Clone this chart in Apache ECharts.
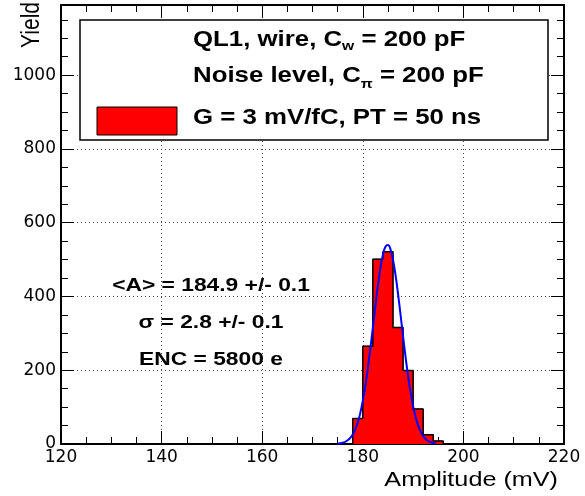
<!DOCTYPE html>
<html><head><meta charset="utf-8">
<script src="https://cdn.jsdelivr.net/npm/echarts@6/dist/echarts.min.js"></script>
<style>html,body{margin:0;padding:0;background:#fff}#c{width:585px;height:496px}</style>
</head><body><div id="c"></div>
<script>
// Histogram bins (lower edges, mV), bin width and counts
const binLow = [178, 180, 182, 184, 186, 188, 190, 192, 194];
const binWidth = 2;
const counts = [69, 265, 501, 521, 316, 199, 95, 25, 8];
// Gaussian fit curve points
const fitX = [175,175.5,176,176.5,177,177.5,178,178.5,179,179.5,180,180.5,181,181.5,182,182.5,183,183.5,184,184.5,185,185.5,186,186.5,187,187.5,188,188.5,189,189.5,190,190.5,191,191.5,192,192.5,193,193.5,194,194.5];
const fitY = [1.0,1.9,3.5,6.0,10.1,16.4,25.9,39.6,58.6,84.1,116.8,157.1,204.7,258.3,315.8,374.0,429.0,476.6,512.8,534.5,539.7,527.7,499.9,458.6,407.6,350.9,292.6,236.3,184.8,140.1,102.8,73.1,50.3,33.6,21.7,13.6,8.2,4.8,2.7,1.4];
// Axis ranges / ticks
const xRange = [120, 220];
const xMajor = 20;
const yRange = [0, 1190];
const yMajor = 200;
// Texts
const legendLines = [
  '{b|QL1, wire, C}{s|w}{b| = 200 pF}',
  '{b|Noise level, C}{s|π}{b| = 200 pF}',
  '{b|G = 3 mV/fC, PT = 50 ns}'
];
const statLines = ['<A> = 184.9 +/- 0.1', 'σ = 2.8 +/- 0.1', 'ENC = 5800 e'];
const xTitle = 'Amplitude (mV)';
const yTitle = 'Yield';

const FONT = 'Liberation Sans, Arial, Helvetica, sans-serif';
const AXFONT = 'DejaVu Sans, sans-serif';
const SX = 1.2; // horizontal stretch of the reference's text
const binData = binLow.map((lo, i) => [lo, lo + binWidth, counts[i]]);
const outline = [[binLow[0], 0]];
binLow.forEach((lo, i) => { outline.push([lo, counts[i]]); outline.push([lo + binWidth, counts[i]]); });
outline.push([binLow[binLow.length - 1] + binWidth, 0]);
const fitData = fitX.map((x, i) => [x, fitY[i]]);

const chart = echarts.init(document.getElementById('c'), null, {renderer: 'canvas'});
const tickCommon = {show: true, inside: true, length: 13, lineStyle: {color: '#000', width: 1}};
const minorCommon = {show: true, splitNumber: 4, length: 7, lineStyle: {color: '#000', width: 1}};
const lineCommon = {show: true, onZero: false, lineStyle: {color: '#000', width: 2}};
const split = {show: true, lineStyle: {color: '#444', width: 1, type: [1, 3]}};
const plain = (v) => String(v);

const subStyle = (lh) => ({
  b: {fontSize: 21.5, fontWeight: 'bold', fontFamily: FONT, color: '#000', lineHeight: lh},
  s: {fontSize: 13, fontWeight: 'bold', fontFamily: FONT, color: '#000', lineHeight: 14, verticalAlign: 'bottom'}
});
const statStyle = {align: 'center', verticalAlign: 'middle', fontSize: 19, fontWeight: 'bold', fontFamily: FONT, fill: '#000'};

chart.setOption({
  animation: false,
  backgroundColor: '#fff',
  grid: {left: 61, right: 21, top: 5, bottom: 52, containLabel: false, outerBoundsMode: 'none'},
  xAxis: [
    {type: 'value', min: xRange[0], max: xRange[1], interval: xMajor, position: 'bottom',
     axisLine: lineCommon, axisTick: tickCommon, minorTick: minorCommon, splitLine: split,
     axisLabel: {show: true, color: '#000', fontSize: 17, fontFamily: AXFONT, margin: 5, formatter: plain, showMinLabel: true, showMaxLabel: true, hideOverlap: false}},
    {type: 'value', min: xRange[0], max: xRange[1], interval: xMajor, position: 'top',
     axisLine: lineCommon, axisTick: tickCommon, minorTick: minorCommon, splitLine: {show: false}, axisLabel: {show: false}}
  ],
  yAxis: [
    {type: 'value', min: yRange[0], max: yRange[1], interval: yMajor, position: 'left',
     axisLine: lineCommon, axisTick: tickCommon, minorTick: minorCommon, splitLine: split,
     axisLabel: {show: true, color: '#000', fontSize: 17, fontFamily: AXFONT, margin: 5, formatter: plain, showMinLabel: true, showMaxLabel: false, hideOverlap: false}},
    {type: 'value', min: yRange[0], max: yRange[1], interval: yMajor, position: 'right',
     axisLine: lineCommon, axisTick: tickCommon, minorTick: minorCommon, splitLine: {show: false}, axisLabel: {show: false}}
  ],
  series: [
    {type: 'custom', xAxisIndex: 0, yAxisIndex: 0, data: binData, clip: true,
     renderItem: (params, api) => {
       const p0 = api.coord([api.value(0), api.value(2)]);
       const p1 = api.coord([api.value(1), 0]);
       return {type: 'rect', shape: {x: p0[0], y: p0[1], width: p1[0] - p0[0], height: p1[1] - p0[1]},
               style: {fill: '#ff0000', stroke: '#ff0000', lineWidth: 1}};
     }},
    {type: 'line', xAxisIndex: 0, yAxisIndex: 0, data: outline, symbol: 'none',
     lineStyle: {color: '#000', width: 1.5}},
    {type: 'line', xAxisIndex: 0, yAxisIndex: 0, data: fitData, symbol: 'none', smooth: true,
     lineStyle: {color: '#0000ff', width: 2}}
  ],
  graphic: [
    {type: 'rect', z: 100, shape: {x: 80, y: 20, width: 468, height: 120},
     style: {fill: '#fff', stroke: '#000', lineWidth: 1.5}},
    {type: 'rect', z: 101, shape: {x: 97, y: 107, width: 80, height: 28},
     style: {fill: '#ff0000', stroke: '#000', lineWidth: 1}},
    {type: 'text', z: 101, x: 193, y: 27, scaleX: SX, style: {text: legendLines[0], rich: subStyle(26)}},
    {type: 'text', z: 101, x: 193, y: 61, scaleX: SX, style: {text: legendLines[1], rich: subStyle(30)}},
    {type: 'text', z: 101, x: 193, y: 105, scaleX: SX, style: {text: legendLines[2], rich: subStyle(26)}},
    {type: 'text', z: 101, x: 211, y: 286, scaleX: SX, style: Object.assign({text: statLines[0]}, statStyle)},
    {type: 'text', z: 101, x: 211, y: 323, scaleX: SX, style: Object.assign({text: statLines[1]}, statStyle)},
    {type: 'text', z: 101, x: 211, y: 360, scaleX: SX, style: Object.assign({text: statLines[2]}, statStyle)},
    {type: 'text', z: 101, x: 558, y: 480, scaleX: SX, style: {text: xTitle, align: 'right', verticalAlign: 'middle', fontSize: 21, fontFamily: FONT, fill: '#000'}},
    {type: 'text', z: 101, x: 32, y: 2, rotation: Math.PI / 2, scaleY: SX, style: {text: yTitle, align: 'right', verticalAlign: 'middle', fontSize: 21, fontFamily: FONT, fill: '#000'}}
  ]
});
</script>
</body></html>
